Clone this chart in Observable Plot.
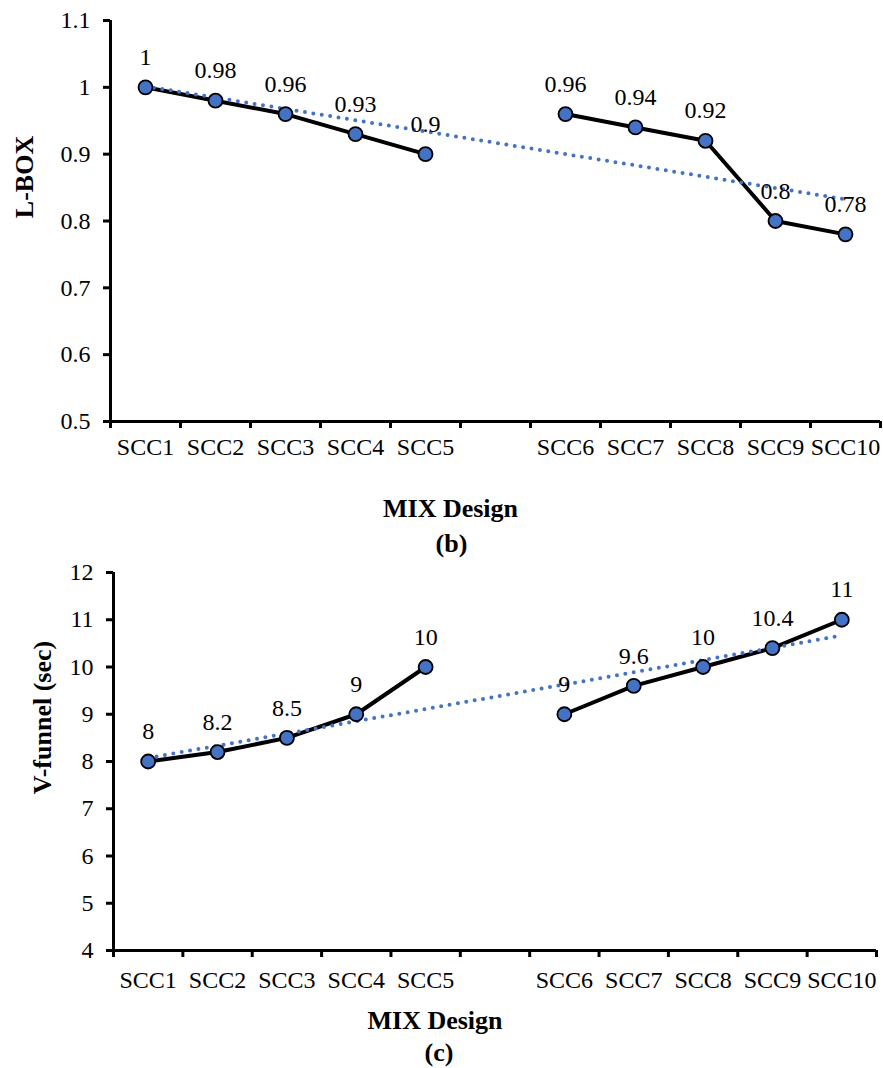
<!DOCTYPE html>
<html>
<head>
<meta charset="utf-8">
<script src="https://cdn.jsdelivr.net/npm/d3@7"></script>
<script src="https://cdn.jsdelivr.net/npm/@observablehq/plot@0.6"></script>
<style>
  html, body { margin: 0; padding: 0; background: white; }
  #wrap { width: 883px; height: 1068px; position: relative; overflow: hidden; }
  #wrap svg { display: block; }
</style>
</head>
<body>
<div id="wrap"></div>
<script>
// ---- data ----
const mixDomain = ["SCC1", "SCC2", "SCC3", "SCC4", "SCC5", "", "SCC6", "SCC7", "SCC8", "SCC9", "SCC10"];
const mixes = ["SCC1", "SCC2", "SCC3", "SCC4", "SCC5", "SCC6", "SCC7", "SCC8", "SCC9", "SCC10"];
const segments = ["A", "A", "A", "A", "A", "B", "B", "B", "B", "B"];
const lboxValues = [1, 0.98, 0.96, 0.93, 0.9, 0.96, 0.94, 0.92, 0.8, 0.78];
const vfunnelValues = [8, 8.2, 8.5, 9, 10, 9, 9.6, 10, 10.4, 11];
const lboxTicks = [0.5, 0.6, 0.7, 0.8, 0.9, 1, 1.1];
const vfunnelTicks = [4, 5, 6, 7, 8, 9, 10, 11, 12];

const slotOf = (m) => mixDomain.indexOf(m) + 1;
const labelSlots = mixDomain.map((m, i) => i + 1).filter((s) => mixDomain[s - 1] !== "");
const boundaries = d3.range(0, mixDomain.length + 1).map((i) => i + 0.5);

const FONT = '"Liberation Serif", "Times New Roman", Times, serif';
const BLUE = "#4472C4";

function makeChart(o) {
  const data = mixes.map((m, i) => ({ mix: m, pos: slotOf(m), value: o.values[i], seg: segments[i] }));
  return Plot.plot({
    width: 883,
    height: o.height,
    marginTop: o.marginTop,
    marginBottom: o.marginBottom,
    marginLeft: o.marginLeft,
    marginRight: o.marginRight,
    style: { fontFamily: FONT, fontSize: "24px", color: "black", background: "transparent", overflow: "visible" },
    x: { type: "linear", domain: [0.5, mixDomain.length + 0.5], label: null },
    y: { domain: [o.ticks[0], o.ticks[o.ticks.length - 1]], label: null },
    marks: [
      Plot.axisY({ ticks: o.ticks, tickSize: 7, tickPadding: 13, strokeWidth: 3, fontSize: 24, label: null,
        tickFormat: (d) => String(+d.toFixed(2)) }),
      Plot.axisX({ ticks: labelSlots, tickSize: 0, tickPadding: o.xPad, fontSize: 24, label: null,
        tickFormat: (s) => mixDomain[s - 1] }),
      Plot.axisX({ ticks: boundaries, tickSize: 7, tickPadding: 0, strokeWidth: 3, label: null,
        tickFormat: () => "" }),
      Plot.ruleX([0.5], { stroke: "black", strokeWidth: 3 }),
      Plot.ruleY([o.ticks[0]], { stroke: "black", strokeWidth: 3 }),
      Plot.line(data, { x: "pos", y: "value", z: "seg", stroke: "black", strokeWidth: 4 }),
      Plot.linearRegressionY(data, { x: "pos", y: "value", ci: 0, stroke: BLUE, strokeWidth: 4,
        strokeDasharray: "0,8.5", strokeLinecap: "round" }),
      Plot.dot(data, { x: "pos", y: "value", r: 7, fill: BLUE, stroke: "black", strokeWidth: 1.8 }),
      Plot.text(data, { x: "pos", y: "value", text: (d) => String(d.value), dy: -30, fontSize: 24,
        fill: "black", lineAnchor: "middle", textAnchor: "middle" }),
      Plot.text([o.yLabel], { frameAnchor: "left", text: (d) => d, rotate: -90, dx: o.yLabelDx, dy: o.yLabelDy,
        textAnchor: "middle", lineAnchor: "middle", fontSize: 26, fontWeight: "bold" }),
      Plot.text(["MIX Design"], { frameAnchor: "bottom", text: (d) => d, dx: o.titleDx, dy: o.titleDy,
        textAnchor: "middle", lineAnchor: "middle", fontSize: 26, fontWeight: "bold" }),
      Plot.text([o.caption], { frameAnchor: "bottom", text: (d) => d, dx: o.capDx, dy: o.capDy,
        textAnchor: "middle", lineAnchor: "middle", fontSize: 26, fontWeight: "bold" })
    ]
  });
}

const wrap = document.getElementById("wrap");
wrap.appendChild(makeChart({
  values: lboxValues, ticks: lboxTicks, yLabel: "L-BOX", caption: "(b)",
  height: 560, marginTop: 20, marginBottom: 139, marginLeft: 110, marginRight: 3,
  xPad: 16, yLabelDx: -86, yLabelDy: -44, titleDx: -45, titleDy: 87, capDx: -44, capDy: 122
}));
wrap.appendChild(makeChart({
  values: vfunnelValues, ticks: vfunnelTicks, yLabel: "V-funnel (sec)", caption: "(c)",
  height: 508, marginTop: 12, marginBottom: 118, marginLeft: 113, marginRight: 7,
  xPad: 20, yLabelDx: -71, yLabelDy: -44, titleDx: -60, titleDy: 70, capDx: -56, capDy: 102
}));
</script>
</body>
</html>
